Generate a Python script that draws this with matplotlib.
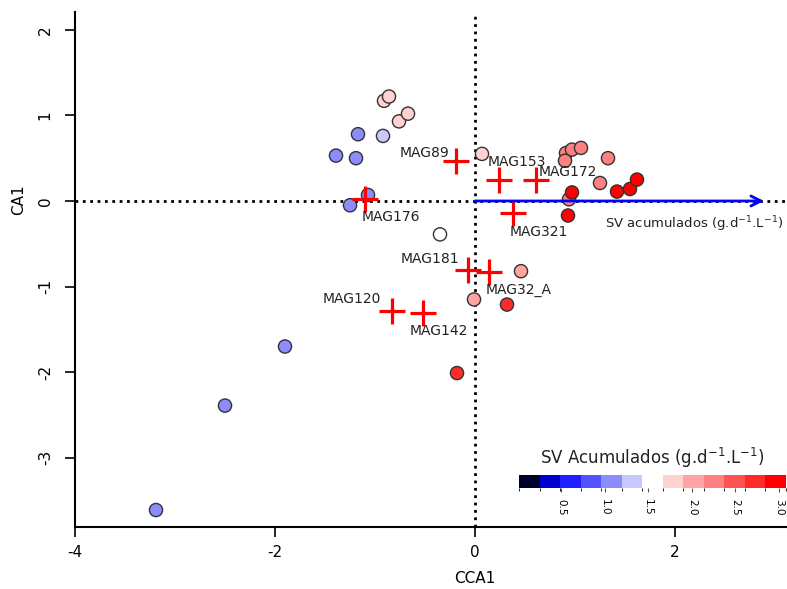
import numpy as np
import matplotlib
matplotlib.use("Agg")
import matplotlib.pyplot as plt
from matplotlib.colors import ListedColormap, BoundaryNorm
from matplotlib.cm import ScalarMappable

plt.rcParams['mathtext.default'] = 'regular'

# Sitios (CCA1, CA1) y SV acumulados
sitio_x = [-3.19, -2.50, -1.90, -1.39, -1.17, -1.19, -1.25, -1.07, -0.92,
           -0.91, -0.86, -0.76, -0.67, -0.35, 0.07,
           0.91, 0.97, 1.06, 0.90, 1.33, 1.25, 0.94,
           0.97, 0.93, 1.42, 1.55, 1.62,
           0.46, -0.01, 0.32, -0.18]
sitio_y = [-3.61, -2.39, -1.70, 0.53, 0.78, 0.50, -0.05, 0.07, 0.76,
           1.17, 1.22, 0.93, 1.02, -0.39, 0.55,
           0.56, 0.60, 0.62, 0.47, 0.50, 0.21, 0.02,
           0.10, -0.17, 0.11, 0.14, 0.25,
           -0.82, -1.15, -1.21, -2.01]
sv_acum = [1.05, 1.05, 1.05, 1.05, 1.05, 1.05, 1.05, 1.05, 1.30,
           1.80, 1.80, 1.80, 1.80, 1.55, 1.80,
           2.25, 2.25, 2.25, 2.25, 2.25, 2.25, 2.25,
           2.95, 2.95, 2.95, 2.95, 2.95,
           2.00, 2.00, 2.70, 2.70]

# Especies (MAGs)
mag_nombres = ['MAG89', 'MAG153', 'MAG172', 'MAG321', 'MAG176',
               'MAG181', 'MAG32_A', 'MAG120', 'MAG142']
mag_x = [-0.19, 0.24, 0.61, 0.38, -1.10, -0.07, 0.14, -0.83, -0.52]
mag_y = [0.47, 0.24, 0.24, -0.14, 0.02, -0.81, -0.83, -1.28, -1.31]
# posicion de las etiquetas
etiq_x = [-0.26, 0.13, 0.64, 0.35, -1.13, -0.16, 0.11, -0.94, -0.65]
etiq_y = [0.56, 0.46, 0.34, -0.36, -0.19, -0.68, -1.04, -1.15, -1.52]
etiq_ha = ['right', 'left', 'left', 'left', 'left', 'right', 'left', 'right', 'left']

# Vector de la variable ambiental
flecha = 2.89

# Paleta
colores = ['#00002e', '#0000cc', '#1f1fff', '#5252ff', '#8c8cff', '#c8c8ff',
           '#ffffff', '#ffd1d1', '#ffa3a3', '#ff8080', '#ff5252', '#ff2b2b',
           '#ff0000']
limites = np.linspace(0.016, 3.08, len(colores) + 1)
cmap = ListedColormap(colores)
norm = BoundaryNorm(limites, cmap.N)

fig = plt.figure(figsize=(7.87, 5.89), dpi=100)
ax = fig.add_axes([0.0953, 0.105, 0.9047, 0.875])

ax.axhline(0, color='black', ls=':', lw=2, zorder=1)
ax.axvline(0, color='black', ls=':', lw=2, zorder=1)

ax.scatter(sitio_x, sitio_y, c=sv_acum, cmap=cmap, norm=norm, s=90,
           edgecolors='#333333', linewidths=1, zorder=3)

ax.scatter(mag_x, mag_y, marker='+', s=330, color='red', linewidths=2.3, zorder=4)
for n, tx, ty, ha in zip(mag_nombres, etiq_x, etiq_y, etiq_ha):
    ax.text(tx, ty, n, ha=ha, va='center', fontsize=10, color='#222222', zorder=5)

ax.annotate('', xy=(flecha, 0), xytext=(0, 0),
            arrowprops=dict(arrowstyle='->', color='blue', lw=2, mutation_scale=18,
                            shrinkA=0, shrinkB=0),
            zorder=5)
ax.text(1.30, -0.27, 'SV acumulados (g.d$^{-1}$.L$^{-1}$)', ha='left', va='center',
        fontsize=9.5, color='#222222')

ax.set_xlim(-4, 3.12)
ax.set_ylim(-3.81, 2.21)
ax.set_xticks([-4, -2, 0, 2])
ax.set_yticks([-3, -2, -1, 0, 1, 2])
ax.set_yticklabels(['-3', '-2', '-1', '0', '1', '2'], rotation=90, va='center')
ax.set_xticklabels(['-4', '-2', '0', '2'])
ax.tick_params(labelsize=11, length=7, width=1.2, color='black')
ax.tick_params(axis='x', pad=6)
ax.tick_params(axis='y', pad=9)
ax.spines['top'].set_visible(False)
ax.spines['right'].set_visible(False)
ax.spines['left'].set_linewidth(1.5)
ax.spines['bottom'].set_linewidth(1.5)
ax.set_xlabel('CCA1', fontsize=11)
ax.set_ylabel('CA1', fontsize=11)
ax.xaxis.set_label_coords(0.562, -0.085)
ax.yaxis.set_label_coords(-0.069, 0.635)

# Leyenda de color
cax = fig.add_axes([0.6595, 0.1715, 0.339, 0.022])
cb = fig.colorbar(ScalarMappable(norm=norm, cmap=cmap), cax=cax,
                  orientation='horizontal', ticks=[0.5, 1.0, 1.5, 2.0, 2.5, 3.0])
cb.outline.set_visible(False)
cb.ax.set_xticklabels(['0.5', '1.0', '1.5', '2.0', '2.5', '3.0'], rotation=-90)
cb.ax.tick_params(labelsize=7.5, length=3, color='#555555', pad=5)
fig.text(0.829, 0.222, 'SV Acumulados (g.d$^{-1}$.L$^{-1}$)', ha='center',
         va='center', fontsize=12, color='#222222')

fig.savefig('out.png', dpi=100)
